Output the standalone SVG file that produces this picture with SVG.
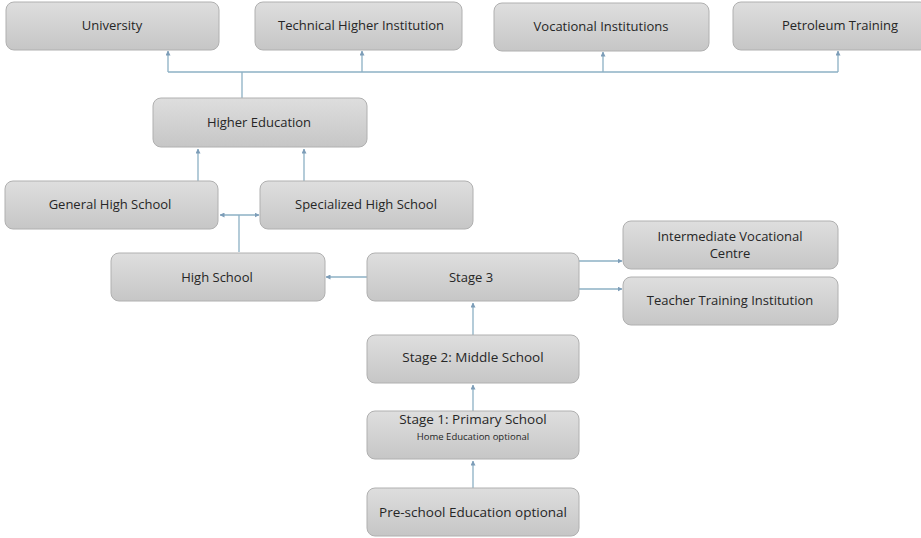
<svg xmlns="http://www.w3.org/2000/svg" width="921" height="538" viewBox="0 0 921 538">
<style>
.box{fill:url(#g);stroke:#b0b0b0;stroke-width:1}
.t{font-family:"Open Sans","Liberation Sans",sans-serif;font-size:13px;fill:#262626;text-anchor:middle;dominant-baseline:central}
.big{font-size:13.5px}
.sm{font-size:9.5px}
.c{fill:none;stroke:#8cb0c4;stroke-width:1.3}
</style>
<defs>
<linearGradient id="g" x1="0" y1="0" x2="0" y2="1">
<stop offset="0" stop-color="#dedede"/>
<stop offset="1" stop-color="#c6c6c6"/>
</linearGradient>
<marker id="a" viewBox="0 0 10 10" refX="9" refY="5" markerWidth="5" markerHeight="5" orient="auto-start-reverse" markerUnits="userSpaceOnUse">
<path d="M0,0 L10,5 L0,10 z" fill="#7d9db8"/>
</marker>
</defs>
<rect width="921" height="538" fill="#fff"/>
<g id="connectors">
<path class="c" d="M242,98 V72"/>
<path class="c" d="M168,72 H838"/>
<path class="c" d="M168,72 V51" marker-end="url(#a)"/>
<path class="c" d="M362,72 V51" marker-end="url(#a)"/>
<path class="c" d="M603,72 V52" marker-end="url(#a)"/>
<path class="c" d="M838,72 V51" marker-end="url(#a)"/>
<path class="c" d="M198,181 V149" marker-end="url(#a)"/>
<path class="c" d="M304,181 V149" marker-end="url(#a)"/>
<path class="c" d="M220,215 H259" marker-start="url(#a)" marker-end="url(#a)"/>
<path class="c" d="M239,252 V215"/>
<path class="c" d="M367,277 H326" marker-end="url(#a)"/>
<path class="c" d="M579,261 H622" marker-end="url(#a)"/>
<path class="c" d="M579,289 H622" marker-end="url(#a)"/>
<path class="c" d="M473,335 V303" marker-end="url(#a)"/>
<path class="c" d="M473,411 V385" marker-end="url(#a)"/>
<path class="c" d="M473,488 V461" marker-end="url(#a)"/>
</g>
<g id="university"><rect class="box" x="6" y="2" width="213" height="48" rx="8"/><text class="t" x="112" y="25">University</text></g>
<g id="technical"><rect class="box" x="255" y="2" width="207" height="48" rx="8"/><text class="t" x="361" y="25">Technical Higher Institution</text></g>
<g id="vocational"><rect class="box" x="494" y="3" width="215" height="48" rx="8"/><text class="t" x="601" y="26">Vocational Institutions</text></g>
<g id="petroleum"><rect class="box" x="733" y="2" width="195" height="48" rx="8"/><text class="t" x="840" y="25">Petroleum Training</text></g>
<g id="higher-education"><rect class="box" x="153" y="98" width="214" height="49" rx="8"/><text class="t" x="259" y="122">Higher Education</text></g>
<g id="general-high-school"><rect class="box" x="5" y="181" width="213" height="48" rx="8"/><text class="t" x="110" y="204">General High School</text></g>
<g id="specialized-high-school"><rect class="box" x="260" y="181" width="213" height="48" rx="8"/><text class="t" x="366" y="204">Specialized High School</text></g>
<g id="high-school"><rect class="box" x="111" y="253" width="214" height="48" rx="8"/><text class="t" x="217" y="277">High School</text></g>
<g id="stage3"><rect class="box" x="367" y="253" width="212" height="48" rx="8"/><text class="t" x="471" y="277">Stage 3</text></g>
<g id="intermediate-vocational"><rect class="box" x="623" y="221" width="215" height="48" rx="8"/><text class="t" x="730" y="236">Intermediate Vocational</text><text class="t" x="730" y="253">Centre</text></g>
<g id="teacher-training"><rect class="box" x="623" y="277" width="215" height="48" rx="8"/><text class="t" x="730" y="300">Teacher Training Institution</text></g>
<g id="stage2"><rect class="box" x="367" y="335" width="212" height="48" rx="8"/><text class="t big" x="473" y="357">Stage 2: Middle School</text></g>
<g id="stage1"><rect class="box" x="367" y="411" width="212" height="48" rx="8"/><text class="t big" x="473" y="419">Stage 1: Primary School</text><text class="t sm" x="473" y="436">Home Education optional</text></g>
<g id="preschool"><rect class="box" x="367" y="488" width="212" height="48" rx="8"/><text class="t big" x="473" y="512">Pre-school Education optional</text></g>
</svg>
